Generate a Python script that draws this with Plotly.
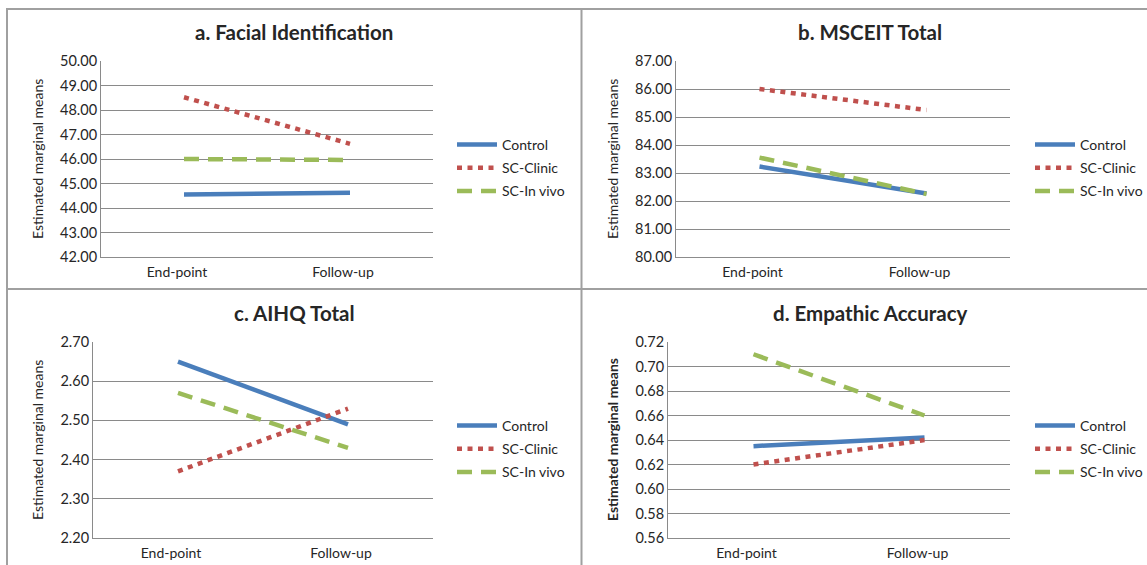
import plotly.graph_objects as go

W, H = 1147, 565

timepoints = ["End-point", "Follow-up"]
groups = ["Control", "SC-Clinic", "SC-In vivo"]

titles = ["a. Facial Identification", "b. MSCEIT Total", "c. AIHQ Total", "d. Empathic Accuracy"]

facial_control = [44.55, 44.62]
facial_clinic = [48.52, 46.62]
facial_invivo = [46.00, 45.96]

msceit_control = [83.23, 82.27]
msceit_clinic = [86.00, 85.25]
msceit_invivo = [83.55, 82.25]

aihq_control = [2.65, 2.49]
aihq_clinic = [2.37, 2.53]
aihq_invivo = [2.57, 2.43]

empathic_control = [0.635, 0.642]
empathic_clinic = [0.620, 0.640]
empathic_invivo = [0.710, 0.660]

y_ranges = [(42, 50, 1), (80, 87, 1), (2.2, 2.7, 0.1), (0.56, 0.72, 0.02)]

panels = [
    (facial_control, facial_clinic, facial_invivo),
    (msceit_control, msceit_clinic, msceit_invivo),
    (aihq_control, aihq_clinic, aihq_invivo),
    (empathic_control, empathic_clinic, empathic_invivo),
]

colors = ["#4A7EBB", "#C0504D", "#9BBB59"]
dashes = ["solid", "5px,5.5px", "15px,9px"]

# pixel boxes (window coordinates) for plot areas: (x0, x1, ytop, ybottom)
boxes = [(101, 433, 61, 257), (676, 1010, 61, 257), (93, 433, 342, 538), (668, 1010, 342, 538)]
legend_pos = [(452, 129), (1030, 129), (452, 410), (1030, 410)]
ytitle_x = [37, 612, 37, 612]
title_x = [294, 870, 294, 870]
title_y = [32, 32, 313, 313]

FONT = "Lato"
TXT = "#262626"

fig = go.Figure()
layout = dict(
    width=W, height=H, margin=dict(l=0, r=0, t=0, b=0, autoexpand=False),
    paper_bgcolor="white", plot_bgcolor="white",
    font=dict(family=FONT, color=TXT, size=13),
    annotations=[], shapes=[],
)

def px_x(x):
    return x / W

def px_y(y):
    return 1 - y / H

for i, (series, box) in enumerate(zip(panels, boxes)):
    n = i + 1
    xa = "x" if n == 1 else f"x{n}"
    ya = "y" if n == 1 else f"y{n}"
    leg = "legend" if n == 1 else f"legend{n}"
    for g, vals, c, d in zip(groups, series, colors, dashes):
        fig.add_trace(go.Scatter(
            x=timepoints, y=vals, mode="lines", name=g,
            line=dict(color=c, width=4.5, dash=d),
            xaxis=xa, yaxis=ya, legend=leg, legendgroup=f"{g}{n}",
            showlegend=True, hoverinfo="skip",
        ))
    x0, x1, yt, yb = box
    lo, hi, step = y_ranges[i]
    xkey = "xaxis" if n == 1 else f"xaxis{n}"
    ykey = "yaxis" if n == 1 else f"yaxis{n}"
    layout[xkey] = dict(
        domain=[px_x(x0), px_x(x1)], anchor=ya, type="category", automargin=False,
        range=[-0.5, 1.5], showgrid=False, showline=True, linecolor="#8c8c8c",
        linewidth=1, ticks="", tickfont=dict(size=14, color=TXT), zeroline=False,
        ticklabelshift=-7, ticklabelstandoff=2,
    )
    layout[ykey] = dict(
        domain=[px_y(yb), px_y(yt)], anchor=xa, range=[lo, hi], dtick=step, tick0=lo,
        tickformat=".2f", showgrid=True, gridcolor="#8a8a8a", gridwidth=1, automargin=False,
        showline=True, linecolor="#8a8a8a", linewidth=1, ticks="", zeroline=False,
        tickfont=dict(size=14.5, color=TXT),
    )
    lx, ly = legend_pos[i]
    layout[leg] = dict(
        x=px_x(lx), y=px_y(ly), xanchor="left", yanchor="top",
        bgcolor="rgba(0,0,0,0)", font=dict(size=14, color=TXT, family=FONT),
        tracegroupgap=2, itemwidth=40,
    )
    layout["annotations"].append(dict(
        text=f"<b>{titles[i]}</b>", x=px_x(title_x[i]), y=px_y(title_y[i]),
        xref="paper", yref="paper", showarrow=False, xanchor="center", yanchor="middle",
        font=dict(size=20.5, color=TXT, family=FONT),
    ))
    ytxt = "Estimated marginal means"
    if n == 4:
        ytxt = f"<b>{ytxt}</b>"
    layout["annotations"].append(dict(
        text=ytxt, x=px_x(ytitle_x[i]), y=px_y((yt + yb) / 2), xref="paper", yref="paper",
        showarrow=False, textangle=-90, xanchor="center", yanchor="middle",
        font=dict(size=14, color=TXT, family=FONT),
    ))

# panel borders
border = dict(type="line", xref="paper", yref="paper", line=dict(color="#a0a0a0", width=2))
for (xa0, ya0, xa1, ya1) in [(6, 9, W, 9), (7, 9, 7, H), (581.5, 9, 581.5, H), (7, 289, W, 289)]:
    s = dict(border)
    s.update(x0=px_x(xa0), y0=px_y(ya0), x1=px_x(xa1), y1=px_y(ya1))
    layout["shapes"].append(s)

fig.update_layout(**layout)
fig.write_html(
    "out.html",
    config={"displayModeBar": False},
    post_script="document.body.style.margin='0';document.body.style.overflow='hidden';",
)
